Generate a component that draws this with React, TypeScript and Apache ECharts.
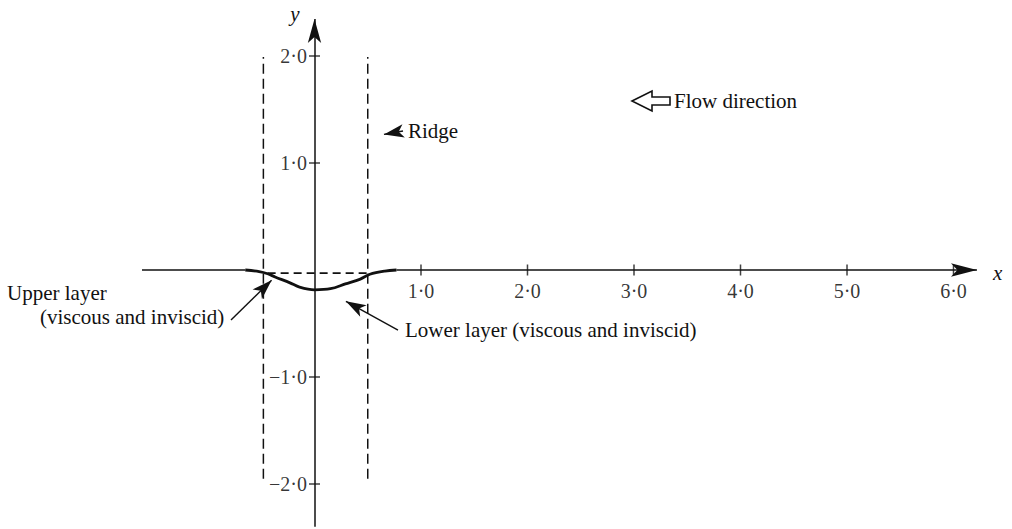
import React, { useEffect, useRef } from 'react';
import * as echarts from 'echarts';

// ---- data ----
const xTicks = [1, 2, 3, 4, 5, 6];
const xTickLabels = ['1·0', '2·0', '3·0', '4·0', '5·0', '6·0'];
const yTicks = [2, 1, -1, -2];
const yTickLabels = ['2·0', '1·0', '−1·0', '−2·0'];

// lower layer (viscous and inviscid) interface, solid
const lowerX = [-0.65, -0.52, -0.44, -0.37, -0.23, -0.14, 0, 0.15, 0.29, 0.43, 0.52, 0.66, 0.77];
const lowerY = [0, -0.015, -0.035, -0.065, -0.12, -0.16, -0.185, -0.175, -0.13, -0.085, -0.04, -0.01, 0];
// upper layer, dashed across the ridge
const upperDashX = [-0.44, 0.52];
const upperDashY = [-0.03, -0.03];
// ridge boundaries (vertical dashed lines)
const ridgeX = [-0.48, 0.5];
const ridgeYRange = [-1.95, 1.99];
// axis extents
const xAxisLeft = [-1.62, -0.65];
const xAxisRight = [0.77, 6.22];
const yAxisRange = [-2.4, 2.345];

const FONT = '"Liberation Serif", "Times New Roman", serif';
const INK = '#111';

export default function App() {
  const ref = useRef<HTMLDivElement>(null);
  useEffect(() => {
    if (!ref.current) return;
    const chart = echarts.init(ref.current, undefined, { renderer: 'svg' });

    const arrow = (from: number[], to: number[], size: number[], width = 1.3) => [
      { coord: from, symbol: 'none', lineStyle: { color: INK, width, type: 'solid' } },
      { coord: to, symbol: 'arrow', symbolSize: size },
    ];

    const option: any = {
      animation: false,
      grid: { left: 133.45, right: 5.25, top: 2.5, bottom: 2.2, containLabel: false },
      xAxis: { type: 'value', min: -1.7, max: 6.5, show: false },
      yAxis: { type: 'value', min: -2.4, max: 2.5, show: false },
      series: [
        {
          name: 'xAxisLeft',
          type: 'line',
          data: xAxisLeft.map((x) => [x, 0]),
          showSymbol: false,
          silent: true,
          lineStyle: { color: INK, width: 1.7 },
          markLine: {
            silent: true,
            animation: false,
            label: { show: false },
            emphasis: { disabled: true },
            itemStyle: { color: INK },
            lineStyle: { color: INK, width: 1.4, type: 'solid' },
            data: [
              arrow([0, yAxisRange[0]], [0, yAxisRange[1]], [10, 24], 1.5),
              arrow([xAxisRight[0], 0], [xAxisRight[1], 0], [10, 26], 1.7),
              arrow([0.831, 1.299], [0.652, 1.267], [10, 20], 1.4),
              arrow([-0.784, -0.467], [-0.403, -0.096], [10, 20], 1.4),
              arrow([0.784, -0.561], [0.295, -0.293], [10, 20], 1.4),
            ],
          },
        },
        {
          name: 'Lower layer',
          type: 'line',
          data: lowerX.map((x, i) => [x, lowerY[i]]),
          smooth: 0.35,
          showSymbol: false,
          silent: true,
          lineStyle: { color: INK, width: 2.8 },
        },
        {
          name: 'Upper layer',
          type: 'line',
          data: upperDashX.map((x, i) => [x, upperDashY[i]]),
          showSymbol: false,
          silent: true,
          lineStyle: { color: INK, width: 1.7, type: [8, 5] },
        },
        ...ridgeX.map((rx, i) => ({
          name: 'Ridge' + i,
          type: 'line',
          data: ridgeYRange.map((y) => [rx, y]),
          showSymbol: false,
          silent: true,
          lineStyle: { color: INK, width: 1.5, type: [10, 5] },
        })),
        {
          name: 'xTicks',
          type: 'scatter',
          data: xTicks.map((v) => [v, 0]),
          symbol: 'rect',
          symbolSize: [1.5, 11],
          silent: true,
          itemStyle: { color: INK },
          label: {
            show: true,
            position: 'inside',
            offset: [0, 21],
            color: '#000',
            fontFamily: FONT,
            fontSize: 20,
            formatter: (p: any) => xTickLabels[p.dataIndex],
          },
        },
        {
          name: 'yTicks',
          type: 'scatter',
          data: yTicks.map((v) => [0, v]),
          symbol: 'rect',
          symbolSize: [11, 1.5],
          silent: true,
          itemStyle: { color: INK },
          label: {
            show: true,
            position: 'left',
            distance: 2,
            color: '#000',
            fontFamily: FONT,
            fontSize: 20,
            formatter: (p: any) => yTickLabels[p.dataIndex],
          },
        },
      ],
      graphic: [
        { type: 'text', x: 295, y: 14, style: { text: 'y', font: `italic 21px ${FONT}`, fill: INK, align: 'center', verticalAlign: 'middle' } },
        { type: 'text', x: 993, y: 273, style: { text: 'x', font: `italic 21px ${FONT}`, fill: INK, align: 'left', verticalAlign: 'middle' } },
        { type: 'text', x: 408, y: 131, style: { text: 'Ridge', font: `21px ${FONT}`, fill: INK, align: 'left', verticalAlign: 'middle' } },
        {
          type: 'polygon',
          shape: { points: [[632, 101], [652, 91], [652, 97], [670, 97], [670, 105], [652, 105], [652, 111]] },
          style: { fill: '#fff', stroke: INK, lineWidth: 1.6 },
        },
        { type: 'text', x: 674, y: 101, style: { text: 'Flow direction', font: `21px ${FONT}`, fill: INK, align: 'left', verticalAlign: 'middle' } },
        { type: 'text', x: 7, y: 293, style: { text: 'Upper layer', font: `21px ${FONT}`, fill: INK, align: 'left', verticalAlign: 'middle' } },
        { type: 'text', x: 40, y: 317, style: { text: '(viscous and inviscid)', font: `21px ${FONT}`, fill: INK, align: 'left', verticalAlign: 'middle' } },
        { type: 'text', x: 405, y: 330, style: { text: 'Lower layer (viscous and inviscid)', font: `21px ${FONT}`, fill: INK, align: 'left', verticalAlign: 'middle' } },
      ],
    };
    chart.setOption(option);
    return () => chart.dispose();
  }, []);
  return <div ref={ref} style={{ position: 'absolute', left: 0, top: 0, width: 1012, height: 529, background: '#fff' }} />;
}
